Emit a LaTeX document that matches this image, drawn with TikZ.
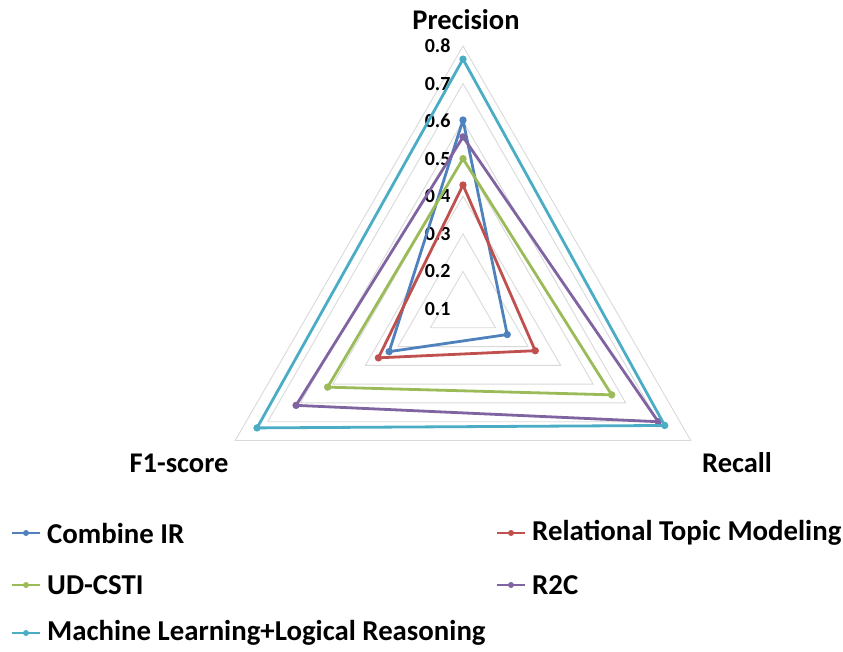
\documentclass[tikz,border=0pt]{standalone}
\usepackage{fontspec}
\setmainfont{Carlito}
\usepackage{xcolor}
\usetikzlibrary{positioning}

\definecolor{combineblue}{HTML}{4F81BD}
\definecolor{rtmred}{HTML}{C0504D}
\definecolor{udgreen}{HTML}{9BBB59}
\definecolor{rtcpurple}{HTML}{8064A2}
\definecolor{mlaqua}{HTML}{4BACC6}
\definecolor{gridgray}{HTML}{D9D9D9}

\tikzset{
  gridline/.style={draw=gridgray, line width=0.9pt, line join=miter},
  series/.style={line width=2.8pt, line join=round},
  axislabel/.style={font=\bfseries\fontsize{28.5}{32}\selectfont},
  ticklabel/.style={font=\bfseries\fontsize{20}{23}\selectfont, anchor=east},
  legendtext/.style={font=\bfseries\fontsize{28.8}{32}\selectfont, anchor=west, inner sep=0pt},
  legendmark/.style={line width=2.2pt},
  declare function={radarr(\v)=(\v-0.1)*375.7;}
}

% one series: colour, precision, recall, f1-score
\newcommand{\radarseries}[4]{%
  \draw[series,#1] (90:{radarr(#2)}) -- (-30:{radarr(#3)}) -- (210:{radarr(#4)}) -- cycle;
  \foreach \ang/\val in {90/#2,-30/#3,210/#4}
    \fill[#1] (\ang:{radarr(\val)}) circle (3.7pt);
}

\begin{document}
\begin{tikzpicture}[x=1pt,y=1pt]
    \useasboundingbox (0,0) rectangle (843,651);
    \begin{scope}[shift={(463,342)}]
    % grid triangles
    \foreach \g in {0.2,0.3,...,0.85}
        \draw[gridline] (90:{radarr(\g)}) -- (-30:{radarr(\g)}) -- (210:{radarr(\g)}) -- cycle;
    % tick labels
    \foreach \t [count=\i] in {0.1,0.2,0.3,0.4,0.5,0.6,0.7,0.8}
        \node[ticklabel] (tick\i) at (-9,{radarr(\t)}) {\t};
    % data
    \radarseries{combineblue}{0.603}{0.236}{0.327}
    \radarseries{rtmred}{0.43}{0.322}{0.36}
    \radarseries{udgreen}{0.50}{0.557}{0.516}
    \radarseries{rtcpurple}{0.558}{0.70}{0.613}
    \radarseries{mlaqua}{0.765}{0.72}{0.733}
    \end{scope}
    % axis names
    \node[axislabel] (prec) at (466,631) {Precision};
    \node[axislabel] (rec) at (737,188) {Recall};
    \node[axislabel] (fone) at (179,188) {F1-score};
    % legend
    \node[legendtext] (lg1) at (47,118) {Combine IR};
    \node[legendtext] (lg2) at (532,118) {Relational Topic Modeling};
    \node[legendtext] (lg3) at (47,66) {UD-CSTI};
    \node[legendtext] (lg4) at (532,66) {R2C};
    \node[legendtext] (lg5) at (47,18) {Machine Learning+Logical Reasoning};
    \foreach \n/\c in {lg1/combineblue,lg2/rtmred,lg3/udgreen,lg4/rtcpurple,lg5/mlaqua} {
        \coordinate (m\n) at ([xshift=-7pt]\n.west);
        \draw[legendmark,\c] (m\n) -- ++(-28,0);
        \fill[\c] ([xshift=-14pt]m\n) circle (3pt);
    }
\end{tikzpicture}
\end{document}
